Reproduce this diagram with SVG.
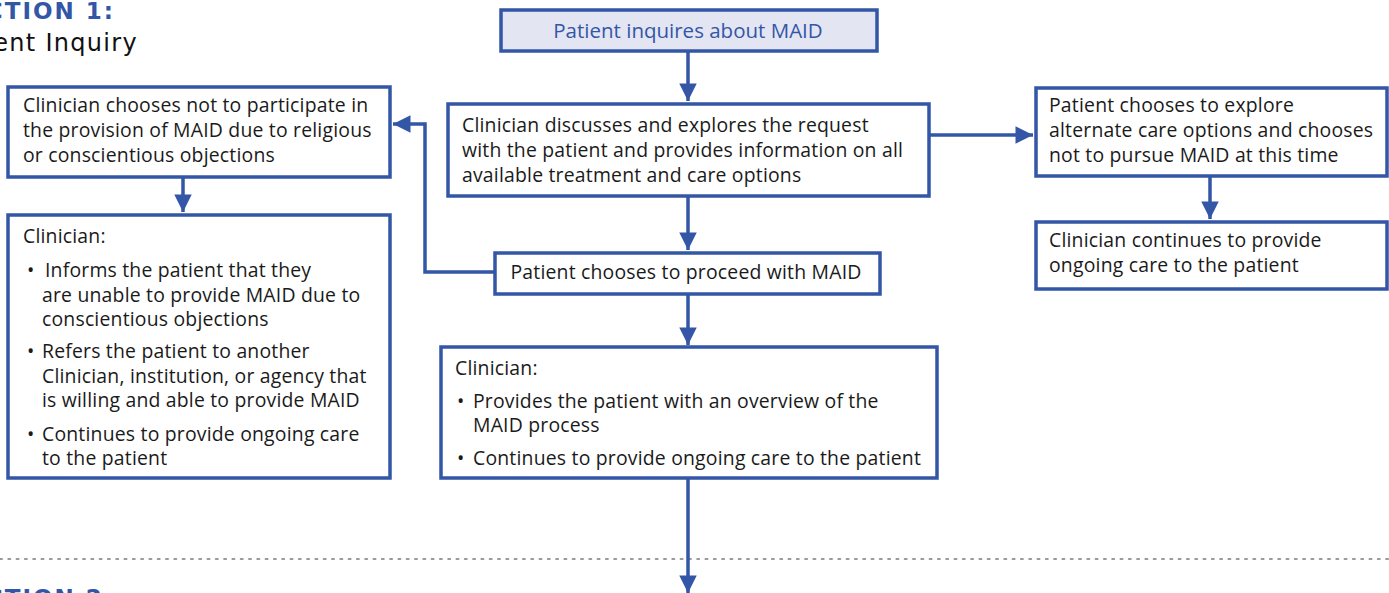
<svg xmlns="http://www.w3.org/2000/svg" width="1389" height="593" viewBox="0 0 1389 593">
<style>
.box{fill:#fff;stroke:#3356a7;stroke-width:3.5}
.t{font-family:"Open Sans","Liberation Sans",Arial,sans-serif;font-size:19.4px;letter-spacing:0.2px;fill:#1a1a1a}
.tb{font-family:"Open Sans","Liberation Sans",Arial,sans-serif;font-size:20.5px;fill:#3356a7}
.c{fill:none;stroke:#3356a7;stroke-width:3.5}
.hd{font-family:"DejaVu Sans",Verdana,sans-serif;font-weight:bold;font-size:23px;letter-spacing:2px;fill:#3356a7}
.hs{font-family:"DejaVu Sans",Verdana,sans-serif;font-size:24px;fill:#111}
</style>
<defs>
<marker id="ah" viewBox="0 0 10 10" refX="10" refY="5" markerWidth="5.5" markerHeight="5" markerUnits="strokeWidth" orient="auto">
<path d="M0,0 L10,5 L0,10 z" fill="#3356a7"/>
</marker>
</defs>
<rect width="1389" height="593" fill="#fff"/>
<g id="headers">
<text class="hd" x="115" y="19" text-anchor="end">SECTION 1:</text>
<text class="hs" x="138" y="51" text-anchor="end" letter-spacing="1.3">Patient Inquiry</text>
<line x1="0" y1="559" x2="1389" y2="559" stroke="#9a9a9a" stroke-width="2" stroke-dasharray="2 6.3" stroke-linecap="round"/>
<text class="hd" x="115" y="606" text-anchor="end">SECTION 2:</text>
</g>
<g id="connectors">
<line class="c" x1="688" y1="51" x2="688" y2="101" marker-end="url(#ah)"/>
<line class="c" x1="929" y1="135" x2="1033" y2="135" marker-end="url(#ah)"/>
<line class="c" x1="1210" y1="177" x2="1210" y2="219" marker-end="url(#ah)"/>
<line class="c" x1="688" y1="196" x2="688" y2="250" marker-end="url(#ah)"/>
<polyline class="c" points="495,272 425,272 425,124 393,124" marker-end="url(#ah)"/>
<line class="c" x1="183" y1="177" x2="183" y2="212" marker-end="url(#ah)"/>
<line class="c" x1="688" y1="294" x2="688" y2="345" marker-end="url(#ah)"/>
<line class="c" x1="688" y1="479" x2="688" y2="593" marker-end="url(#ah)"/>
</g>
<g id="n-inquire">
<rect x="501" y="10" width="376" height="41" fill="#e3e5f3" stroke="#3356a7" stroke-width="3.5"/>
<text class="tb" x="688" y="38" text-anchor="middle">Patient inquires about MAID</text>
</g>
<g id="n-discuss">
<rect class="box" x="448" y="104" width="481" height="92"/>
<text class="t" x="462" y="132">Clinician discusses and explores the request</text>
<text class="t" x="462" y="157">with the patient and provides information on all</text>
<text class="t" x="462" y="182">available treatment and care options</text>
</g>
<g id="n-alternate">
<rect class="box" x="1036" y="88" width="351" height="88"/>
<text class="t" x="1049" y="112">Patient chooses to explore</text>
<text class="t" x="1049" y="137">alternate care options and chooses</text>
<text class="t" x="1049" y="162">not to pursue MAID at this time</text>
</g>
<g id="n-ongoing">
<rect class="box" x="1036" y="222" width="351" height="67"/>
<text class="t" x="1049" y="247">Clinician continues to provide</text>
<text class="t" x="1049" y="272">ongoing care to the patient</text>
</g>
<g id="n-proceed">
<rect class="box" x="495" y="253" width="385" height="41"/>
<text class="t" x="686" y="279" text-anchor="middle">Patient chooses to proceed with MAID</text>
</g>
<g id="n-object">
<rect class="box" x="8" y="87" width="382" height="90"/>
<text class="t" x="23" y="112">Clinician chooses not to participate in</text>
<text class="t" x="23" y="137">the provision of MAID due to religious</text>
<text class="t" x="23" y="162">or conscientious objections</text>
</g>
<g id="n-refer">
<rect class="box" x="8" y="215" width="382" height="263"/>
<text class="t" x="23" y="243">Clinician:</text>
<text class="t" x="27" y="277">•</text><text class="t" x="45" y="277">Informs the patient that they</text>
<text class="t" x="42" y="302">are unable to provide MAID due to</text>
<text class="t" x="42" y="326">conscientious objections</text>
<text class="t" x="27" y="358">•</text><text class="t" x="42" y="358">Refers the patient to another</text>
<text class="t" x="42" y="383">Clinician, institution, or agency that</text>
<text class="t" x="42" y="407">is willing and able to provide MAID</text>
<text class="t" x="27" y="441">•</text><text class="t" x="42" y="441">Continues to provide ongoing care</text>
<text class="t" x="42" y="465">to the patient</text>
</g>
<g id="n-overview">
<rect class="box" x="441" y="347" width="496" height="131"/>
<text class="t" x="455" y="375">Clinician:</text>
<text class="t" x="457" y="408">•</text><text class="t" x="473" y="408">Provides the patient with an overview of the</text>
<text class="t" x="473" y="432">MAID process</text>
<text class="t" x="457" y="465">•</text><text class="t" x="473" y="465">Continues to provide ongoing care to the patient</text>
</g>
</svg>
